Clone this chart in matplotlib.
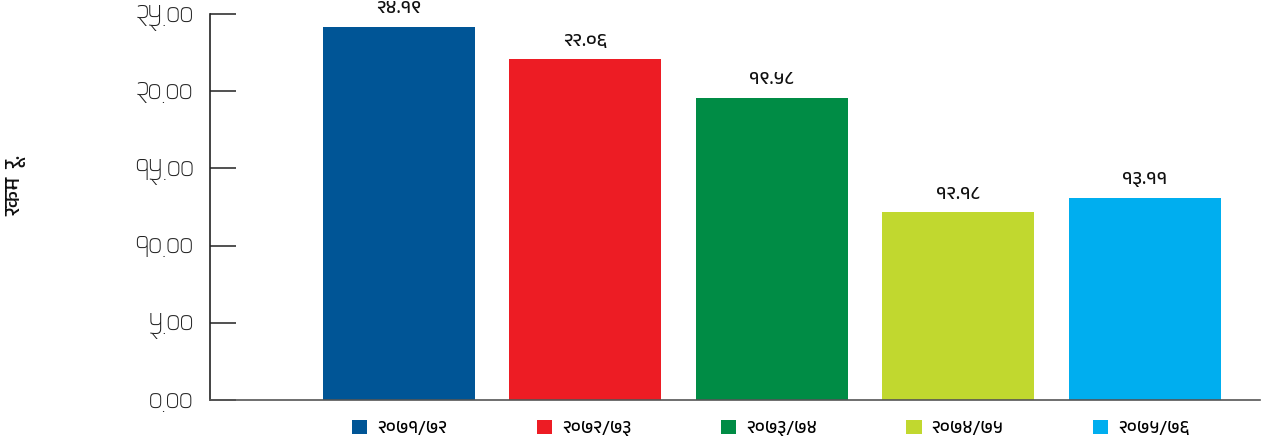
import matplotlib
matplotlib.use("Agg")
import matplotlib.pyplot as plt
from matplotlib import font_manager as fm
from matplotlib.patches import Patch

# ---- data ----
categories = ["२०७१/७२", "२०७२/७३", "२०७३/७४", "२०७४/७५", "२०७५/७६"]
values = [24.19, 22.06, 19.58, 12.18, 13.11]
value_labels = ["२४.१९", "२२.०६", "१९.५८", "१२.१८", "१३.११"]
yticks = [0, 5, 10, 15, 20, 25]
ytick_labels = ["०.००", "५.००", "१०.००", "१५.००", "२०.००", "२५.००"]
colors = ["#005596", "#ed1c24", "#008c45", "#c1d82f", "#00aeef"]
ylabel = "रकम  रू."

# ---- fonts ----
available = {f.name for f in fm.fontManager.ttflist}
def pick(prefs):
    return [n for n in prefs if n in available] + ["DejaVu Sans"]
tickfont = pick(["Matangi", "FreeSans", "Mukta"])
boldfont = pick(["Anek Devanagari", "FreeSans", "Mukta"])
plt.rcParams['font.family'] = tickfont

W, H = 1269, 446
fig = plt.figure(figsize=(W / 100, H / 100), dpi=100)
ax = fig.add_axes([210 / W, 46 / H, 1050 / W, 386 / H])

x = list(range(len(values)))
ax.bar(x, values, width=0.815, color=colors, zorder=2)

ax.set_xlim(-1.013, 4.617)
ax.set_ylim(0, 25)
ax.set_yticks(yticks)
ax.set_yticklabels(ytick_labels, fontsize=17.5, color='#222222', family=tickfont)
ax.set_xticks([])
ax.tick_params(axis='y', direction='in', length=19, width=1.2, color='#333333', pad=12)
for s in ['top', 'right']:
    ax.spines[s].set_visible(False)
ax.spines['left'].set_color('#222222')
ax.spines['left'].set_linewidth(1.2)
ax.spines['bottom'].set_color('#555555')
ax.spines['bottom'].set_linewidth(1.2)

for xi, v, lab in zip(x, values, value_labels):
    ax.annotate(lab, (xi, v), xytext=(0, 7.5), textcoords='offset points',
                ha='center', va='bottom', fontsize=14, fontweight='bold',
                family=boldfont, color='#111111')

fig.text(16 / W, 1 - 185 / H, ylabel, rotation=90, ha='center', va='center',
         fontsize=15.5, family=boldfont, fontweight='semibold', color='#111111')

handles = [Patch(facecolor=c, edgecolor='none') for c in colors]
ax.legend(handles, categories, ncol=5, loc='center', bbox_to_anchor=(0.534, -0.072),
          frameon=False, handlelength=0.85, handleheight=0.85, handletextpad=0.55,
          columnspacing=4.95, prop={'family': boldfont, 'size': 13, 'weight': 'bold'})

fig.savefig("out.png", dpi=100)
